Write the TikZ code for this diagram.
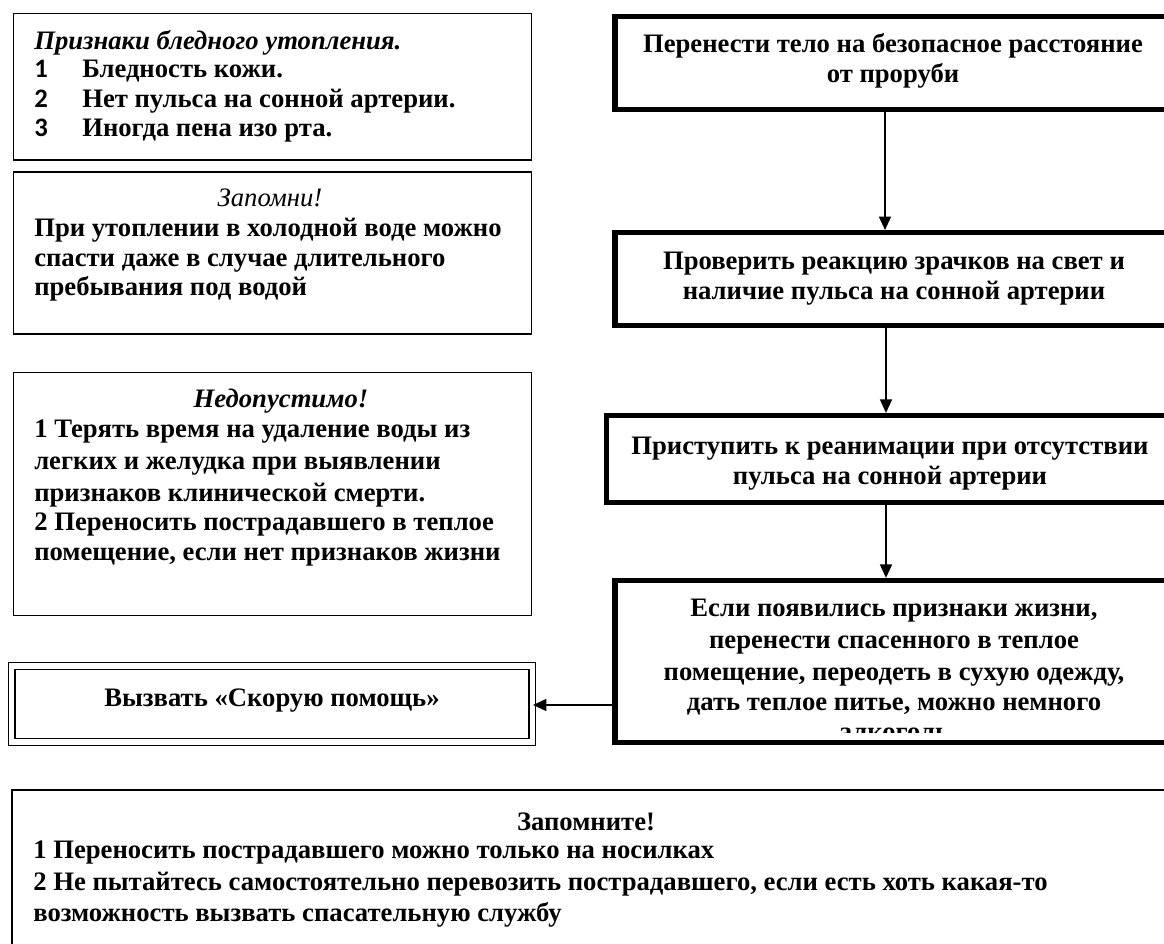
\documentclass[tikz,border=0pt]{standalone}
\usepackage{fontspec}
\setmainfont{Liberation Serif}
\newfontfamily\numfont{Carlito}
\usetikzlibrary{arrows.meta}
\begin{document}
\begin{tikzpicture}[x=0.75pt,y=-0.75pt,
  lbox/.style={draw, line width=1.1pt, inner sep=0, rectangle},
  fbox/.style={draw, line width=4pt, inner sep=0, rectangle},
  vbox/.style={draw, double, double distance=3.8pt, line width=1.1pt, inner sep=0, rectangle},
  txt/.style={inner sep=0, font=\fontsize{20}{22.5}\selectfont\bfseries},
  lt/.style={txt, anchor=base west},
  ct/.style={txt, anchor=base},
  arr/.style={line width=1pt, -{Triangle[length=10pt,width=9pt]}}]
\useasboundingbox (0,0) rectangle (1164,944);
\clip (0,0) rectangle (1164,944);

% left column boxes
\node[lbox, minimum width=388.5pt, minimum height=110pt] (b1) at (272.3,86.8) {};
\node[lbox, minimum width=388.5pt, minimum height=121.8pt] (b2) at (272.3,253) {};
\node[lbox, minimum width=388.5pt, minimum height=182.1pt] (b3) at (272.3,494) {};
\node[vbox, minimum width=390.4pt, minimum height=57pt] (V) at (272,704) {};

% right column boxes
\node[fbox, minimum width=417pt, minimum height=69.5pt] (A) at (893,63) {};
\node[fbox, minimum width=417pt, minimum height=69.5pt] (B) at (893,279) {};
\node[fbox, minimum width=425.25pt, minimum height=65.25pt] (C) at (890,459) {};
\node[fbox, minimum width=417pt, minimum height=121.5pt] (D) at (893,661.5) {};

% bottom box
\node[lbox, minimum width=891pt, minimum height=157.5pt] (E) at (606,895) {};

% connectors
\coordinate (ax) at (885,0);
\coordinate (bx) at (886,0);
\coordinate (ay) at (0,705);
\draw[arr] (A.south -| ax) -- (B.north -| ax);
\draw[arr] (B.south -| bx) -- (C.north -| bx);
\draw[arr] (C.south -| bx) -- (D.north -| bx);
\draw[arr] (D.west |- ay) -- (V.east |- ay);

% box 1 text
\node[lt, font=\fontsize{20}{22.5}\selectfont\bfseries\itshape] (t11) at (34,50) {Признаки бледного утопления.};
\node[lt, font=\fontsize{20}{22.5}\selectfont\bfseries\numfont] (n1) at (34,78) {1};
\node[lt] (t12) at (82,78) {Бледность кожи.};
\node[lt, font=\fontsize{20}{22.5}\selectfont\bfseries\numfont] (n2) at (34,108) {2};
\node[lt] (t13) at (82,108) {Нет пульса на сонной артерии.};
\node[lt, font=\fontsize{20}{22.5}\selectfont\bfseries\numfont] (n3) at (34,137) {3};
\node[lt] (t14) at (82,137) {Иногда пена изо рта.};

% box 2 text
\node[ct, font=\fontsize{20}{22.5}\selectfont\itshape] (t21) at (270,207) {Запомни!};
\node[lt] (t22) at (34,237) {При утоплении в холодной воде можно};
\node[lt] (t23) at (34,267) {спасти даже в случае длительного};
\node[lt] (t24) at (34,296) {пребывания под водой};

% box 3 text
\node[ct, font=\fontsize{20}{22.5}\selectfont\bfseries\itshape] (t31) at (281,408) {Недопустимо!};
\node[lt] (t32) at (34,438) {1 Терять время на удаление воды из};
\node[lt] (t33) at (34,470) {легких и желудка при выявлении};
\node[lt] (t34) at (34,502) {признаков клинической смерти.};
\node[lt] (t35) at (34,531) {2 Переносить пострадавшего в теплое};
\node[lt] (t36) at (34,561) {помещение, если нет признаков жизни};

% call box text
\node[ct] (tv) at (272,706) {Вызвать «Скорую помощь»};

% right column texts
\node[ct] (ta1) at (893,53) {Перенести тело на безопасное расстояние};
\node[ct] (ta2) at (893,83) {от проруби};
\node[ct] (tb1) at (894,270) {Проверить реакцию зрачков на свет и};
\node[ct] (tb2) at (894,300) {наличие пульса на сонной артерии};
\node[ct] (tc1) at (890,455) {Приступить к реанимации при отсутствии};
\node[ct] (tc2) at (890,485) {пульса на сонной артерии};
\node[ct] (td1) at (894,616) {Если появились признаки жизни,};
\node[ct] (td2) at (894,648) {перенести спасенного в теплое};
\node[ct] (td3) at (894,680) {помещение, переодеть в сухую одежду,};
\node[ct] (td4) at (894,710) {дать теплое питье, можно немного};
\begin{scope}
  \clip (620,720) rectangle (1164,732);
  \node[ct] (td5) at (894,740.5) {алкоголь};
\end{scope}

% bottom box text
\node[ct] (te1) at (586,830) {Запомните!};
\node[lt] (te2) at (33,858) {1 Переносить пострадавшего можно только на носилках};
\node[lt] (te3) at (33,890) {2 Не пытайтесь самостоятельно перевозить пострадавшего, если есть хоть какая-то};
\node[lt] (te4) at (33,921) {возможность вызвать спасательную службу};
\end{tikzpicture}
\end{document}
